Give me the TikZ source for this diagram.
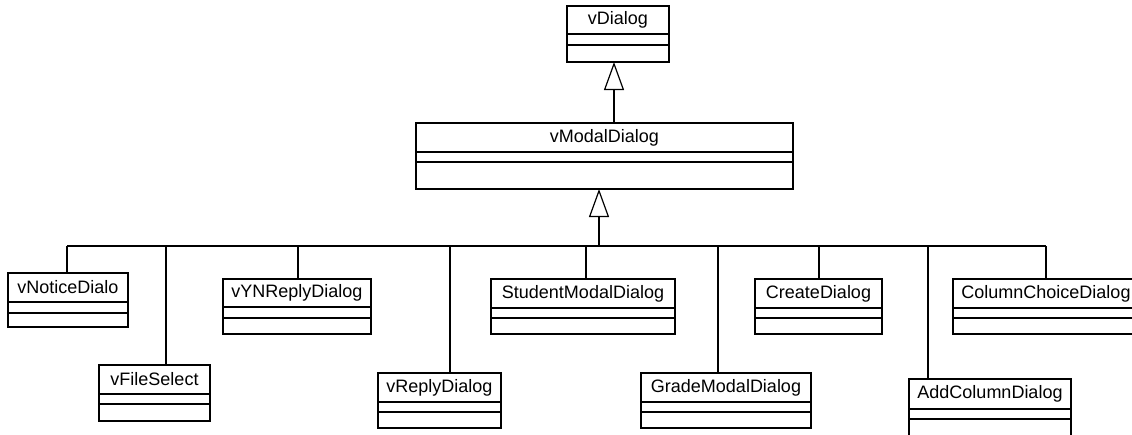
\documentclass[tikz,border=0pt]{standalone}
\usepackage{fontspec}
\setmainfont{Liberation Sans}
\usetikzlibrary{arrows.meta}
\tikzset{
  clsbox/.style={draw=black, line width=1.2pt, rectangle, inner sep=0pt, outer sep=0pt, fill=white},
  clstext/.style={inner sep=0pt, font=\fontsize{18}{20}\selectfont, text=black},
  clsline/.style={draw=black, line width=1.2pt},
  conn/.style={draw=black, line width=1.2pt},
  gen/.style={conn, -{Triangle[open, length=28pt, width=20pt, line width=1.2pt]}},
}
% #1 name, #2 left, #3 top, #4 right, #5 name bottom, #6 attr bottom, #7 bottom, #8 text
\newcommand\umlclassbox[8]{%
  \node[clsbox, minimum width={(#4-#2)*1pt}, minimum height={(#7-#3)*1pt}] (#1) at ({(#2+#4)/2},{(#3+#7)/2}) {};
  \node[clstext] (#1-t) at ({(#2+#4)/2},{(#3+#5)/2}) {#8};
  \draw[clsline] (#2,#5) -- (#4,#5) (#2,#6) -- (#4,#6);
}
\begin{document}
\begin{tikzpicture}[x=1pt, y=-1pt]
\clip (0,0) rectangle (1132,434);
\fill[white] (0,0) rectangle (1132,434);

\umlclassbox{vDialog}{567}{6}{669}{34}{45}{62}{vDialog}
\umlclassbox{vModalDialog}{416}{123}{793}{152}{162}{189}{vModalDialog}

\umlclassbox{vNoticeDialo}{8}{273}{128}{302}{313}{327}{vNoticeDialo}
\umlclassbox{vFileSelect}{99}{365}{210}{394}{404}{421}{vFileSelect}
\umlclassbox{vYNReplyDialog}{223}{279}{371}{307}{318}{334}{vYNReplyDialog}
\umlclassbox{vReplyDialog}{378}{373}{501}{402}{412}{428}{vReplyDialog}
\umlclassbox{StudentModalDialog}{491}{279}{675}{308}{318}{334}{StudentModalDialog}
\umlclassbox{GradeModalDialog}{641}{373}{811}{402}{412}{428}{GradeModalDialog}
\umlclassbox{CreateDialog}{755}{279}{882}{308}{318}{334}{CreateDialog}
\umlclassbox{AddColumnDialog}{909}{379}{1071}{409}{419}{450}{AddColumnDialog}
\umlclassbox{ColumnChoiceDialog}{953}{279}{1139}{308}{318}{334}{ColumnChoiceDialog}

% generalisation vModalDialog -> vDialog
\coordinate (up) at (614,0);
\draw[gen] (vModalDialog.north -| up) -- (vDialog.south -| up);

% tree bar
\coordinate (j) at (599,246);
\coordinate (d1) at (67,246);
\coordinate (d2) at (166,246);
\coordinate (d3) at (298,246);
\coordinate (d4) at (450,246);
\coordinate (d5) at (586,246);
\coordinate (d6) at (718,246);
\coordinate (d7) at (819,246);
\coordinate (d8) at (928,246);
\coordinate (d9) at (1046,246);
\draw[gen] (j) -- (vModalDialog.south -| j);
\draw[conn] (d1) -- (d9);
\draw[conn] (d1) -- (vNoticeDialo.north -| d1);
\draw[conn] (d2) -- (vFileSelect.north -| d2);
\draw[conn] (d3) -- (vYNReplyDialog.north -| d3);
\draw[conn] (d4) -- (vReplyDialog.north -| d4);
\draw[conn] (d5) -- (StudentModalDialog.north -| d5);
\draw[conn] (d6) -- (GradeModalDialog.north -| d6);
\draw[conn] (d7) -- (CreateDialog.north -| d7);
\draw[conn] (d8) -- (AddColumnDialog.north -| d8);
\draw[conn] (d9) -- (ColumnChoiceDialog.north -| d9);
\end{tikzpicture}
\end{document}
